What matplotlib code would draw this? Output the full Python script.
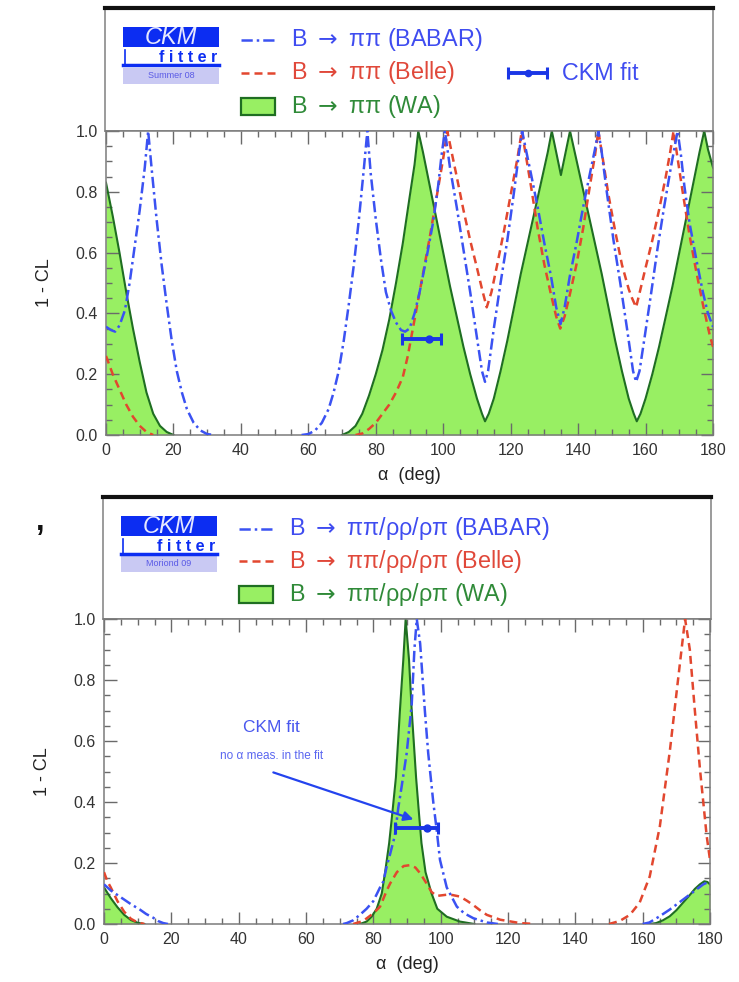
import matplotlib
matplotlib.use('Agg')
import matplotlib.pyplot as plt
from matplotlib.patches import Rectangle
from matplotlib.ticker import MultipleLocator
import numpy as np

plt.rcParams['font.family'] = ['Liberation Sans', 'DejaVu Sans']

# ---------------- data: top panel (Summer 08, B -> pi pi) ----------------
top_wa_alpha = [0,2,4,6,8,10,12,14,16,18,20,70,72,74,76,78,80,82,84,86,88,90,91.5,92.6,94,96,98,100,102,104,106,108,110,111.5,112.4,113.5,115,117,119,121,123,125,127,129,131,132.2,134.9,137.6,139,141,143,145,147,149,151,153,155,156.5,157.4,158.5,160,162,164,166,168,170,172,174,176,177.4,178.5,180]
top_wa_cl = [0.83,0.72,0.60,0.47,0.35,0.24,0.14,0.07,0.03,0.01,0.0,0.0,0.01,0.03,0.07,0.13,0.20,0.28,0.38,0.50,0.63,0.78,0.89,1.0,0.93,0.82,0.71,0.60,0.49,0.39,0.29,0.20,0.12,0.07,0.045,0.07,0.12,0.21,0.31,0.42,0.53,0.63,0.73,0.83,0.93,1.0,0.855,1.0,0.93,0.83,0.73,0.63,0.53,0.42,0.31,0.21,0.12,0.07,0.045,0.07,0.12,0.20,0.29,0.39,0.49,0.60,0.71,0.82,0.93,1.0,0.94,0.88]

top_belle_alpha = [0,2,4,6,8,10,12,14,74,76,78,80,82,84,86,88,89.5,91,92.5,94,96,98,100,101.2,102.5,104,106,108,110,111.5,112.9,114.3,116,118,120,122,123.3,124.5,126,128,130,132,133.5,134.7,136,137.5,139.5,141.5,143.5,145,146,147.3,149,151,153,155,156,157.2,158.5,160,162,164,166,167.3,168.3,169.5,171,173,175,177,179,180]
top_belle_cl = [0.26,0.20,0.15,0.10,0.06,0.03,0.01,0.0,0.0,0.005,0.02,0.04,0.07,0.10,0.14,0.19,0.26,0.35,0.44,0.53,0.65,0.78,0.91,1.0,0.93,0.85,0.74,0.64,0.55,0.48,0.42,0.47,0.56,0.67,0.79,0.91,1.0,0.92,0.82,0.68,0.56,0.46,0.39,0.35,0.39,0.46,0.56,0.68,0.82,0.92,1.0,0.91,0.79,0.67,0.56,0.48,0.45,0.42,0.48,0.55,0.64,0.74,0.85,0.93,1.0,0.91,0.80,0.66,0.54,0.43,0.33,0.29]

top_babar_alpha = [0,1.5,2.7,4,5.6,7,8.5,10,11.5,12.5,13.5,15,16.5,18,19.5,21,22.5,24,26,28,30,32,58,60,62,64,66,67.5,69,70.5,72,73.5,75,76.5,77.5,78.5,80,81.5,83,84.5,86,87.5,88.7,90,91.5,93,95,97,98.5,99.5,100.5,102,104,106,108,110,111.5,112.4,113.3,115,117,119,121,122.5,123.4,124.5,126,128,130,132,133.5,134.8,136,137.5,139.5,141.5,143.5,145,146,147,148.5,150.5,152.5,154.5,156.3,157.2,158.2,159.7,161.7,163.5,165.5,167.5,169.5,170.5,171.5,173,175,177,178.5,180]
top_babar_cl = [0.356,0.345,0.34,0.36,0.41,0.50,0.62,0.74,0.88,1.0,0.88,0.71,0.56,0.43,0.31,0.21,0.14,0.085,0.04,0.015,0.003,0.0,0.0,0.003,0.015,0.04,0.085,0.14,0.21,0.31,0.43,0.56,0.71,0.88,1.0,0.86,0.71,0.58,0.47,0.41,0.37,0.345,0.34,0.35,0.40,0.47,0.58,0.70,0.82,0.92,1.0,0.88,0.75,0.61,0.47,0.32,0.21,0.175,0.21,0.35,0.50,0.64,0.80,0.93,1.0,0.94,0.86,0.75,0.63,0.52,0.42,0.365,0.42,0.52,0.63,0.75,0.86,0.94,1.0,0.93,0.80,0.64,0.50,0.35,0.21,0.175,0.21,0.32,0.47,0.61,0.75,0.88,1.0,0.92,0.82,0.70,0.58,0.47,0.40,0.356]

top_fit = [95.9, 87.9, 99.3, 0.315]   # central, low, high, 1-CL level

# ---------------- data: bottom panel (Moriond 09, B -> pipi/rhorho/rhopi) ----------------
bot_wa_alpha = [0,2,4,6,8,10,12,76,78,79.5,81,82.5,83.5,84.7,85.7,86.7,87.9,88.9,89.6,90.6,91.4,92.7,93.5,94.3,95.5,97.3,99,101.8,105.7,110,162,164,166,168,170,172,174,175.5,177,178.3,179.2,180]
bot_wa_cl = [0.12,0.085,0.055,0.03,0.013,0.004,0.0,0.0,0.008,0.024,0.05,0.10,0.17,0.265,0.37,0.48,0.70,0.866,1.0,0.866,0.70,0.48,0.37,0.265,0.17,0.10,0.05,0.024,0.008,0.0,0.0,0.003,0.012,0.025,0.045,0.07,0.095,0.115,0.13,0.14,0.138,0.13]

bot_belle_alpha = [0,1,2,4,6,8,10,12,74,77,80,82,84,85,87,89,90.9,92.5,94,95.8,97.3,98.8,100.3,101.8,103.5,105.7,107.7,109.7,111.7,113.7,117.7,123.6,128,150,153.2,156.2,159.1,162.1,165.1,168.1,170.6,172.6,174,175.5,177,179,180]
bot_belle_cl = [0.17,0.14,0.12,0.075,0.04,0.017,0.005,0.0,0.0,0.01,0.035,0.057,0.11,0.133,0.17,0.19,0.193,0.185,0.165,0.133,0.105,0.092,0.094,0.096,0.095,0.09,0.077,0.062,0.045,0.03,0.014,0.003,0.0,0.0,0.01,0.03,0.07,0.156,0.32,0.57,0.81,1.0,0.90,0.70,0.51,0.29,0.21]

bot_babar_alpha = [0,2,4,6,8,10.7,12.5,14.7,16,17.6,19,71,72.1,74,76,78,80,82,83,84,85,86.4,87.4,88.4,89.9,91.4,92.2,92.9,93.9,95.3,96.3,97.8,98.8,99.8,101.8,104.8,107,109.7,113.7,117,160,162,165,168,172,175,178,180]
bot_babar_cl = [0.13,0.11,0.095,0.08,0.065,0.047,0.033,0.02,0.01,0.003,0.0,0.0,0.003,0.012,0.03,0.05,0.075,0.12,0.14,0.19,0.23,0.29,0.38,0.45,0.56,0.72,0.9,1.0,0.92,0.70,0.56,0.40,0.31,0.21,0.12,0.057,0.035,0.019,0.005,0.0,0.0,0.005,0.025,0.047,0.08,0.105,0.13,0.14]

bot_fit = [95.8, 86.4, 99.1, 0.314]

x_ticks = [0, 20, 40, 60, 80, 100, 120, 140, 160, 180]
y_ticks = [0.0, 0.2, 0.4, 0.6, 0.8, 1.0]

top_labels = ['B $\\rightarrow$ \u03c0\u03c0 (BABAR)', 'B $\\rightarrow$ \u03c0\u03c0 (Belle)',
              'B $\\rightarrow$ \u03c0\u03c0 (WA)']
bot_labels = ['B $\\rightarrow$ \u03c0\u03c0/\u03c1\u03c1/\u03c1\u03c0 (BABAR)',
              'B $\\rightarrow$ \u03c0\u03c0/\u03c1\u03c1/\u03c1\u03c0 (Belle)',
              'B $\\rightarrow$ \u03c0\u03c0/\u03c1\u03c1/\u03c1\u03c0 (WA)']

# ---------------- styles ----------------
C_BLUE = '#3b52f2'
C_RED = '#e2472f'
C_FILL = '#98ef63'
C_GEDGE = '#1f6e22'
C_FIT = '#1a36e6'
T_BLUE = '#3f4cf0'
T_RED = '#e0483a'
T_GREEN = '#2f8a38'
BLUE_DASH = (0, (4.5, 1.6, 1.0, 1.6))
RED_DASH = (0, (3.2, 2.0))
LEG_FS = 16.8

W, H = 739, 982
fig = plt.figure(figsize=(W / 100, H / 100), dpi=100)


def rect(l, t, r, b):
    return [l / W, 1 - b / H, (r - l) / W, (b - t) / H]


def split_zero(a, c):
    xa, yc = [], []
    for i in range(len(a)):
        xa.append(a[i]); yc.append(c[i])
        if i + 1 < len(a) and c[i] == 0 and c[i + 1] == 0:
            xa.append(np.nan); yc.append(np.nan)
    return xa, yc


def draw_plot(ax, wa, belle, babar, fit):
    ax.fill_between(wa[0], wa[1], 0, color=C_FILL, lw=0, zorder=1)
    ax.plot(*split_zero(*wa), color=C_GEDGE, lw=1.5, zorder=2)
    ax.plot(*split_zero(*belle), color=C_RED, lw=1.8, ls=RED_DASH, zorder=3)
    ax.plot(*split_zero(*babar), color=C_BLUE, lw=1.8, ls=BLUE_DASH, zorder=4)
    c, lo, hi, yv = fit
    ax.errorbar([c], [yv], xerr=[[c - lo], [hi - c]], fmt='o', ms=5, color=C_FIT,
                ecolor=C_FIT, elinewidth=2.8, capsize=4.5, capthick=2.2, zorder=6)
    ax.set_xlim(0, 180)
    ax.set_ylim(0, 1)
    ax.set_xticks(x_ticks)
    ax.set_yticks(y_ticks)
    ax.set_yticklabels(['%.1f' % v for v in y_ticks])
    ax.xaxis.set_minor_locator(MultipleLocator(5))
    ax.yaxis.set_minor_locator(MultipleLocator(0.05))
    ax.tick_params(which='both', direction='in', top=True, right=True,
                   colors='#6a6a6a', labelcolor='#333333', labelsize=11.5, width=1)
    ax.tick_params(which='major', length=9, pad=6)
    ax.tick_params(which='minor', length=4.5)
    for s in ax.spines.values():
        s.set_color('#7a7a7a'); s.set_linewidth(1.1)
    ax.set_xlabel('\u03b1  (deg)', fontsize=13, color='#222222', labelpad=6)
    ax.set_ylabel('1 - CL', fontsize=13, color='#222222', labelpad=16)


def draw_legend(ax, labels, date, with_fit):
    wpx, hpx = 608, 123
    ax.set_xlim(0, wpx)
    ax.set_ylim(hpx, 0)
    ax.set_xticks([]); ax.set_yticks([])
    for k, s in ax.spines.items():
        s.set_color('#8a8a8a'); s.set_linewidth(1.2)
    ax.spines['top'].set_color('#111111')
    ax.spines['top'].set_linewidth(3.0)
    # logo
    ax.add_patch(Rectangle((18, 19), 96, 20, color='#0c2df2', lw=0))
    ax.text(66, 29.5, 'CKM', color='#e6e8ff', fontsize=17, style='italic',
            ha='center', va='center')
    ax.plot([19.5, 19.5], [42, 57], color='#0c2df2', lw=1.2)
    ax.plot([18, 114], [57, 57], color='#0c2df2', lw=2.5)
    ax.text(112, 50, 'f i t t e r', color='#0c2df2', fontsize=11.5, weight='bold',
            ha='right', va='center')
    ax.add_patch(Rectangle((18, 59.5), 96, 16, color='#c9c9f3', lw=0))
    ax.text(66, 67.5, date, color='#5a5ae6', fontsize=6.5, ha='center', va='center')
    # entries
    ax.plot([136, 171], [32, 32], color=C_BLUE, lw=1.8, ls=BLUE_DASH)
    ax.plot([136, 171], [65, 65], color=C_RED, lw=1.8, ls=RED_DASH)
    ax.add_patch(Rectangle((136, 90), 34, 17, fc=C_FILL, ec=C_GEDGE, lw=1.6))
    ax.text(186, 32, labels[0], color=T_BLUE, fontsize=LEG_FS, va='center')
    ax.text(186, 65, labels[1], color=T_RED, fontsize=LEG_FS, va='center')
    ax.text(186, 98, labels[2], color=T_GREEN, fontsize=LEG_FS, va='center')
    if with_fit:
        ax.errorbar([423], [65], xerr=[[20], [19]], fmt='o', ms=4.5, color=C_FIT,
                    elinewidth=2.8, capsize=4, capthick=2.2)
        ax.text(457, 65, 'CKM fit', color=T_BLUE, fontsize=LEG_FS, va='center')


# top panel
leg1 = fig.add_axes(rect(105, 8, 713, 131))
ax1 = fig.add_axes(rect(106, 131, 713, 435))
draw_plot(ax1, (top_wa_alpha, top_wa_cl), (top_belle_alpha, top_belle_cl),
          (top_babar_alpha, top_babar_cl), top_fit)
draw_legend(leg1, top_labels, 'Summer 08', True)

# bottom panel
leg2 = fig.add_axes(rect(103, 497, 711, 619))
ax2 = fig.add_axes(rect(104, 619, 710, 924))
draw_plot(ax2, (bot_wa_alpha, bot_wa_cl), (bot_belle_alpha, bot_belle_cl),
          (bot_babar_alpha, bot_babar_cl), bot_fit)
draw_legend(leg2, bot_labels, 'Moriond 09', False)

# annotation in bottom panel
ax2.annotate('', xy=(91.9, 0.343), xytext=(50.3, 0.497),
             arrowprops=dict(arrowstyle='-|>', color='#2443ee', lw=1.6,
                             mutation_scale=14, shrinkA=0, shrinkB=0), zorder=7)
ax2.text(49.8, 0.645, 'CKM fit', color='#4a58ee', fontsize=12.5, ha='center', va='center')
ax2.text(49.8, 0.55, 'no \u03b1 meas. in the fit', color='#5a66f0', fontsize=8.5,
         ha='center', va='center')

# stray comma at left of the lower panel
fig.text(40 / W, 1 - 522 / H, ',', fontsize=22, weight='bold', color='#111111',
         ha='center', va='center')

fig.savefig('out.png', dpi=100)
